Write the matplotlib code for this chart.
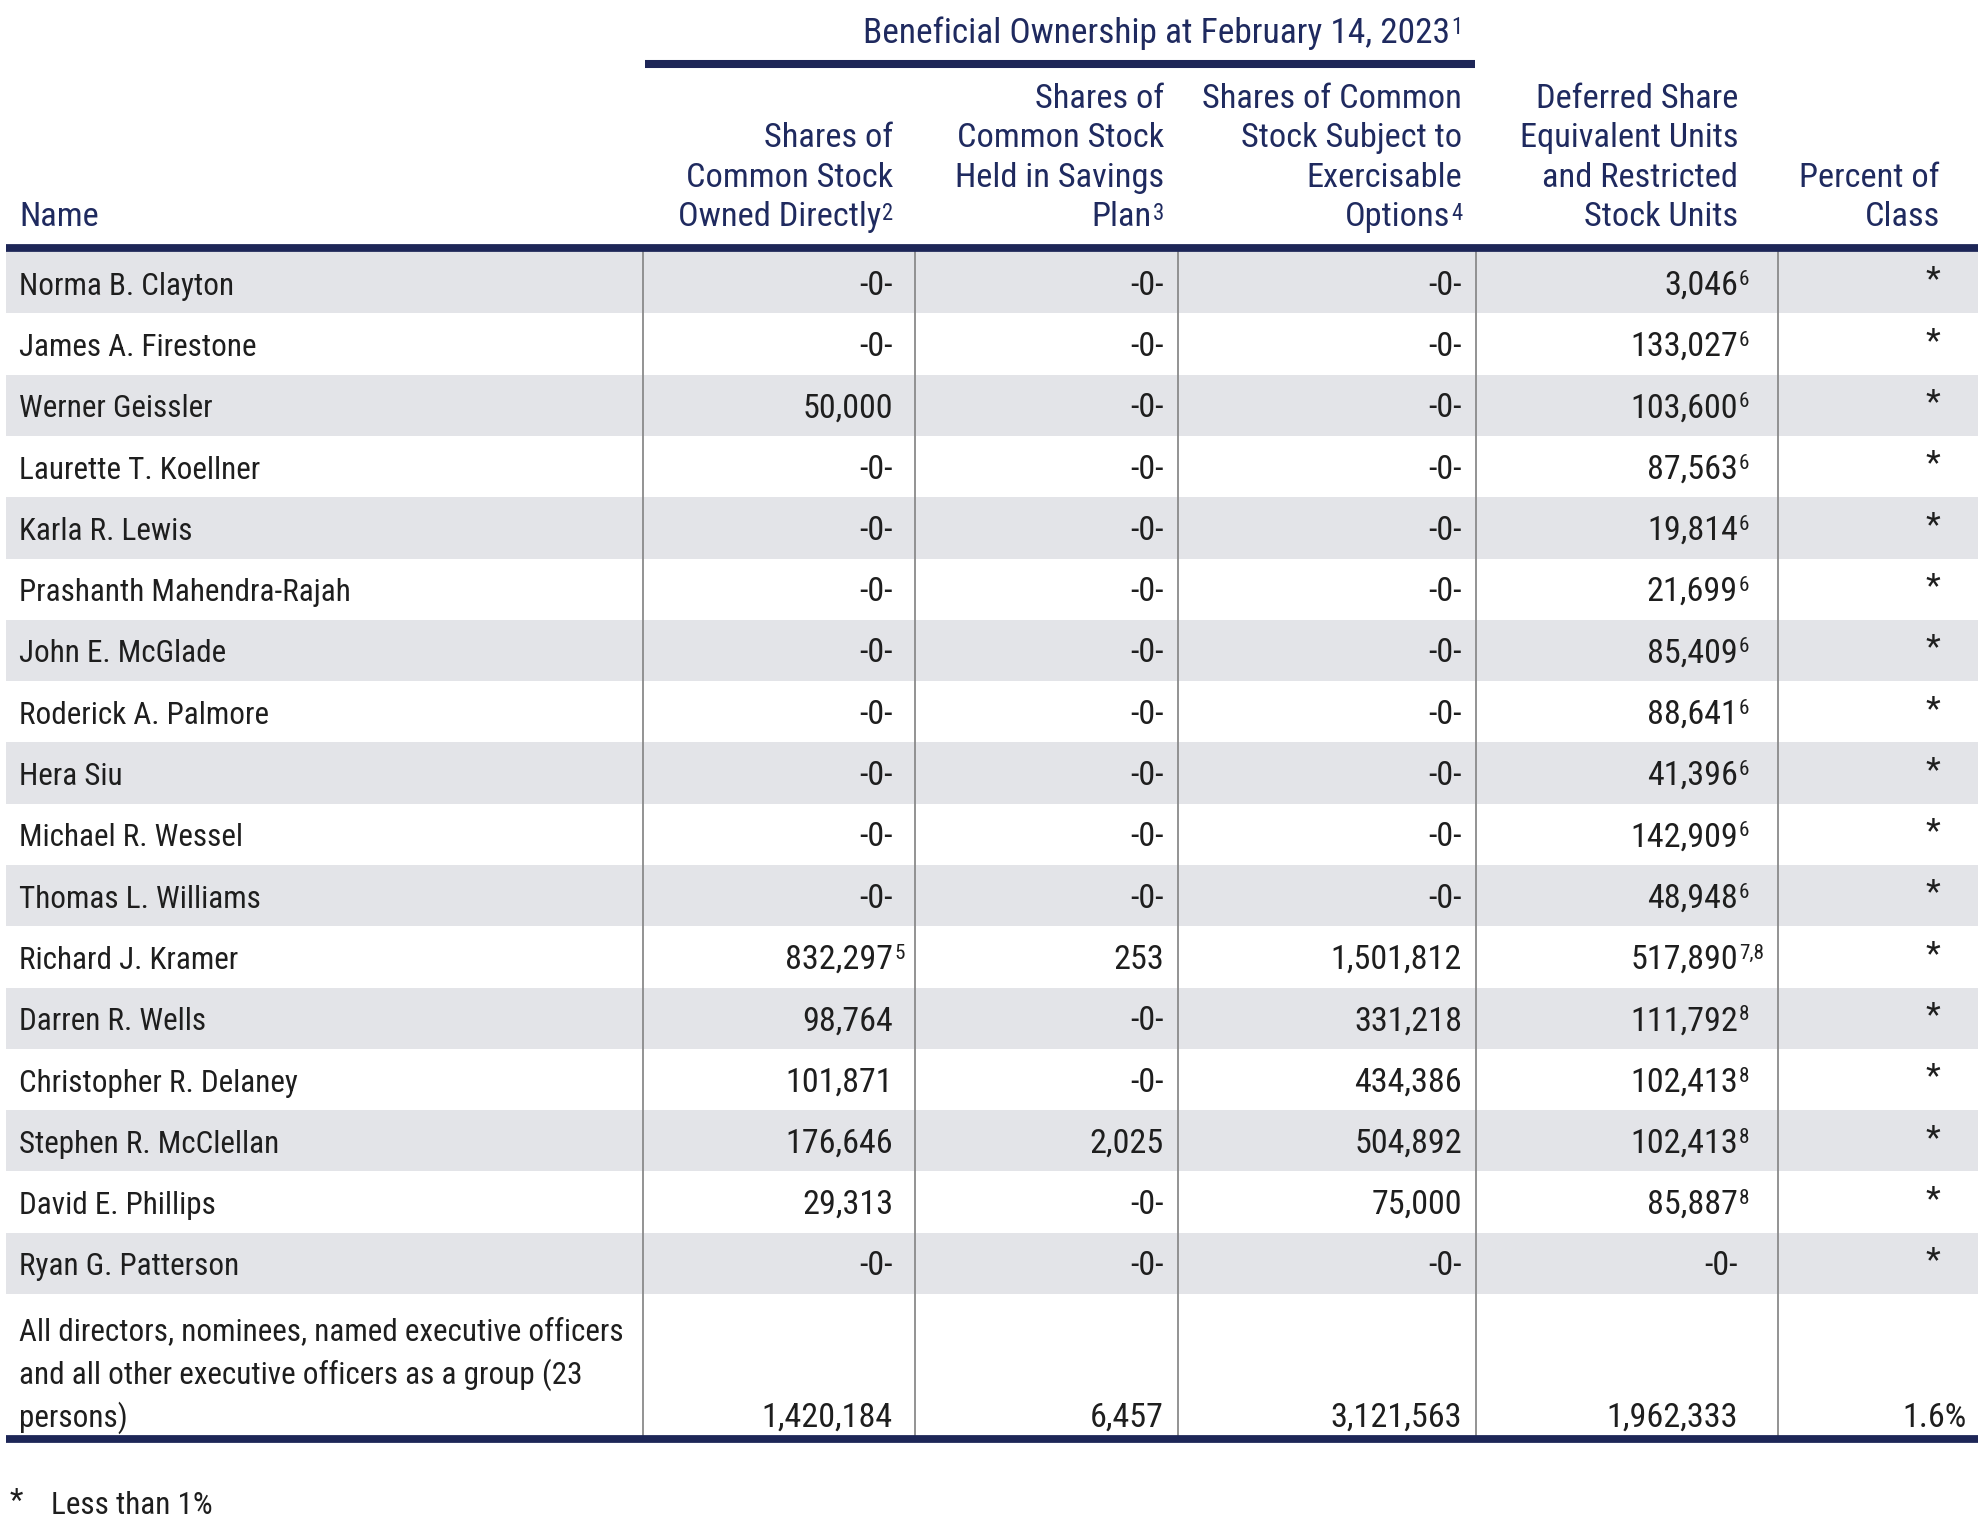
"""
Beneficial ownership table (proxy statement style), drawn with plain matplotlib
text, rectangles and lines on a pixel-coordinate axes.
"""

import matplotlib.pyplot as plt
import matplotlib.font_manager as fm
from matplotlib.patches import Rectangle

W, H = 1982, 1524
NAVY = "#1d2657"
HEAD = "#1f2a5f"
TEXT = "#1e1e1e"
GRAY = "#e3e4e8"
VLINE = "#8a8a8a"

# pick a condensed grotesque, whichever is installed
_avail = {f.name for f in fm.fontManager.ttflist}
FONT = "DejaVu Sans"
for fam in ["Roboto Condensed", "Archivo Narrow", "Liberation Sans Narrow",
            "Sofia Sans Condensed"]:
    if fam in _avail:
        FONT = fam
        break

# ---- data ---------------------------------------------------------------
names = ["Norma B. Clayton", "James A. Firestone", "Werner Geissler",
         "Laurette T. Koellner", "Karla R. Lewis", "Prashanth Mahendra-Rajah",
         "John E. McGlade", "Roderick A. Palmore", "Hera Siu",
         "Michael R. Wessel", "Thomas L. Williams", "Richard J. Kramer",
         "Darren R. Wells", "Christopher R. Delaney", "Stephen R. McClellan",
         "David E. Phillips", "Ryan G. Patterson"]
direct = ["-0-", "-0-", "50,000", "-0-", "-0-", "-0-", "-0-", "-0-", "-0-",
          "-0-", "-0-", "832,297", "98,764", "101,871", "176,646", "29,313", "-0-"]
direct_sup = [""] * 11 + ["5"] + [""] * 5
savings = ["-0-"] * 11 + ["253", "-0-", "-0-", "2,025", "-0-", "-0-"]
options = ["-0-"] * 11 + ["1,501,812", "331,218", "434,386", "504,892",
                          "75,000", "-0-"]
deferred = ["3,046", "133,027", "103,600", "87,563", "19,814", "21,699",
            "85,409", "88,641", "41,396", "142,909", "48,948", "517,890",
            "111,792", "102,413", "102,413", "85,887", "-0-"]
deferred_sup = ["6"] * 11 + ["7,8", "8", "8", "8", "8", ""]
percent = ["*"] * 17

group_label = ["All directors, nominees, named executive officers",
               "and all other executive officers as a group (23",
               "persons)"]
group_values = ["1,420,184", "6,457", "3,121,563", "1,962,333", "1.6%"]

title = "Beneficial Ownership at February 14, 2023"
title_sup = "1"
col_headers = [["Shares of", "Common Stock", "Owned Directly"],
               ["Shares of", "Common Stock", "Held in Savings", "Plan"],
               ["Shares of Common", "Stock Subject to", "Exercisable", "Options"],
               ["Deferred Share", "Equivalent Units", "and Restricted", "Stock Units"],
               ["Percent of", "Class"]]
col_header_sup = ["2", "3", "4", "", ""]
footnote = ("*", "Less than 1%")

# ---- layout (pixels) ----------------------------------------------------
TL, TR = 6, 1978
VX = [643, 915, 1178, 1476, 1778]
RX = [893, 1164, 1462, 1738, 1940]
NAME_X = 19
HEAD_BASE = [108, 147, 187, 226]
ROW_TOP, ROW_H = 252, 61.3
GROUP_BOT = 1435

fig = plt.figure(figsize=(W / 100, H / 100), dpi=100)
ax = fig.add_axes([0, 0, 1, 1])
ax.set_xlim(0, W)
ax.set_ylim(H, 0)
ax.axis("off")
renderer = fig.canvas.get_renderer()


def txt_w(t):
    return t.get_window_extent(renderer=renderer).width


def fit_size(sample, target_px, base=20):
    t = ax.text(0, 0, sample, fontsize=base, family=FONT)
    w = txt_w(t)
    t.remove()
    return base * target_px / w


BODY_FS = fit_size("Norma B. Clayton", 214)
NUM_FS = fit_size("832,297", 108)
HEAD_FS = fit_size("Shares of Common", 259)
TITLE_FS = fit_size(title, 587)
SUP_FS = NUM_FS * 0.62
HSUP_FS = HEAD_FS * 0.66


def right_with_sup(x, y, s, sup, fs, sfs, raise_px, color):
    """Right aligned text where the superscript is inside the alignment."""
    off = 0
    if sup:
        t = ax.text(x, y - raise_px, sup, ha="right", va="baseline",
                    fontsize=sfs, color=color, family=FONT)
        off = txt_w(t) + 1
    ax.text(x - off, y, s, ha="right", va="baseline", fontsize=fs,
            color=color, family=FONT)


# title + its underline
right_with_sup(1462, 43, title, title_sup, TITLE_FS, HSUP_FS, 9, HEAD)
ax.plot([645, 1475], [64, 64], color=NAVY, lw=5.8, solid_capstyle="butt")

# column headers
ax.text(NAME_X, HEAD_BASE[-1], "Name", ha="left", va="baseline",
        fontsize=HEAD_FS, color=HEAD, family=FONT)
for j, lines in enumerate(col_headers):
    bases = HEAD_BASE[-len(lines):]
    for k, (ln, yb) in enumerate(zip(lines, bases)):
        sup = col_header_sup[j] if k == len(lines) - 1 else ""
        right_with_sup(RX[j], yb, ln, sup, HEAD_FS, HSUP_FS, 6, HEAD)

# row shading
n = len(names)
for i in range(n):
    if i % 2 == 0:
        ax.add_patch(Rectangle((TL, ROW_TOP + i * ROW_H), TR - TL, ROW_H,
                               facecolor=GRAY, edgecolor="none", zorder=0))

# vertical separators
for x in VX:
    ax.plot([x, x], [ROW_TOP, GROUP_BOT + 4], color=VLINE, lw=1.3, zorder=1)

# thick rules
ax.plot([TL, TR], [248, 248], color=NAVY, lw=5.6, solid_capstyle="butt", zorder=3)
ax.plot([TL, TR], [GROUP_BOT + 4, GROUP_BOT + 4], color=NAVY, lw=5.6,
        solid_capstyle="butt", zorder=3)

# body rows
cols = [direct, savings, options, deferred, percent]
sups = [direct_sup, [""] * n, [""] * n, deferred_sup, [""] * n]
for i in range(n):
    yb = ROW_TOP + i * ROW_H + ROW_H / 2 + 12
    ax.text(NAME_X, yb, names[i], ha="left", va="baseline", fontsize=BODY_FS,
            color=TEXT, family=FONT)
    for j in range(5):
        lift = 5 if cols[j][i] == "*" else 0
        ax.text(RX[j], yb - lift, cols[j][i], ha="right", va="baseline",
                fontsize=NUM_FS, color=TEXT, family=FONT)
        if sups[j][i]:
            ax.text(RX[j] + 1, yb - 10, sups[j][i], ha="left", va="baseline",
                    fontsize=SUP_FS, color=TEXT, family=FONT)

# group total row
gb = [1340, 1383.5, 1427]
for ln, yb in zip(group_label, gb):
    ax.text(NAME_X, yb, ln, ha="left", va="baseline", fontsize=BODY_FS,
            color=TEXT, family=FONT)
for j, v in enumerate(group_values):
    x = RX[j] if j < 4 else 1967
    ax.text(x, gb[-1], v, ha="right", va="baseline", fontsize=NUM_FS,
            color=TEXT, family=FONT)

# footnote
ax.text(10, 1510, footnote[0], ha="left", va="baseline", fontsize=BODY_FS,
        color=TEXT, family=FONT)
ax.text(51, 1514, footnote[1], ha="left", va="baseline", fontsize=BODY_FS,
        color=TEXT, family=FONT)

fig.savefig("out.png", dpi=100)
plt.close(fig)
